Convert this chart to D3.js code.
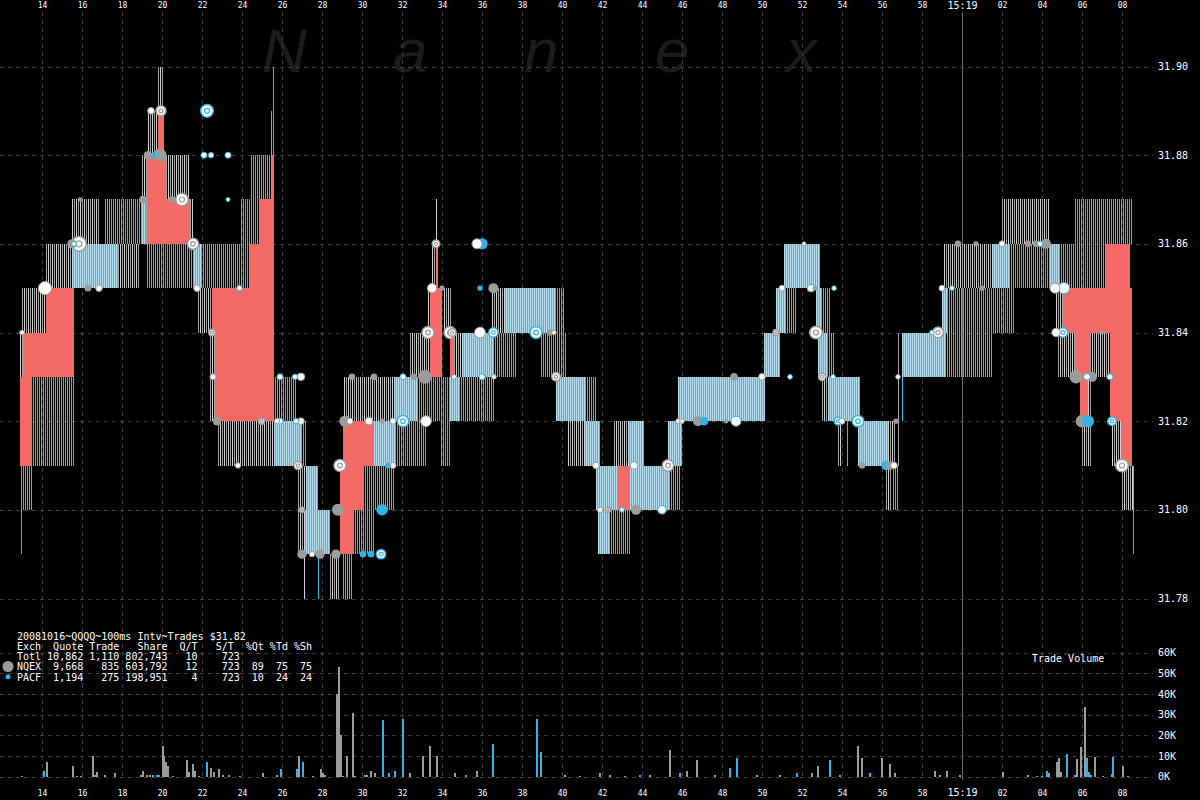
<!DOCTYPE html>
<html><head><meta charset="utf-8">
<script src="https://cdn.jsdelivr.net/npm/d3@7"></script>
<style>
html,body{margin:0;padding:0;background:#000;}
svg{display:block;}
text{font-family:"DejaVu Sans Mono",monospace;fill:#fff;}
</style></head><body>
<svg id="chart" width="1200" height="800" shape-rendering="crispEdges"></svg>
<script>
// ---------- DATA ----------
// time in seconds after 15:18:00
const timeTicks = [14,16,18,20,22,24,26,28,30,32,34,36,38,40,42,44,46,48,50,52,54,56,58,60,62,64,66,68];
const timeTickLabels = ["14","16","18","20","22","24","26","28","30","32","34","36","38","40","42","44","46","48","50","52","54","56","58","15:19","02","04","06","08"];
const priceTicks = [31.78,31.80,31.82,31.84,31.86,31.88,31.90];
const priceTickLabels = ["31.78","31.80","31.82","31.84","31.86","31.88","31.90"];
const volTicks = [0,10000,20000,30000,40000,50000,60000];
const volTickLabels = ["0K","10K","20K","30K","40K","50K","60K"];

// quote ranges [tStart, tEnd, low, high]
const nqexQuotes = [
 [12.9,13.05,31.83,31.84],[13.0,14.2,31.84,31.85],[14.2,18.9,31.85,31.86],[15.5,16.85,31.86,31.87],
 [19.0,19.25,31.86,31.88],[19.3,19.8,31.88,31.89],[19.8,20.05,31.89,31.90],[20.2,21.35,31.87,31.88],
 [21.35,21.6,31.86,31.87],[21.55,21.95,31.85,31.86],[21.8,22.5,31.84,31.85],[22.4,22.65,31.82,31.84],
 [22.8,27.0,31.81,31.82],[26.8,27.8,31.80,31.81],[26.8,28.4,31.79,31.80],[27.1,27.15,31.78,31.79],
 [28.4,28.9,31.78,31.79],[29.07,32.75,31.82,31.83],[30.6,31.65,31.81,31.82],[32.4,33.4,31.83,31.84],
 [33.3,33.6,31.84,31.85],[33.5,33.7,31.85,31.86],[33.7,33.75,31.86,31.87],[34.1,34.45,31.84,31.85],
 [34.4,34.9,31.82,31.83],[34.45,36.6,31.83,31.84],[36.5,39.7,31.84,31.85],[39.7,41.2,31.82,31.83],
 [40.3,41.9,31.81,31.82],[41.7,42.8,31.80,31.81],[43.4,45.4,31.80,31.81],[41.8,42.4,31.79,31.80],
 [42.6,44.1,31.81,31.82],[45.3,46.0,31.81,31.82],[45.8,50.15,31.82,31.83],[50.1,50.9,31.83,31.84],
 [50.7,51.2,31.84,31.85],[51.1,52.9,31.85,31.86],[52.7,53.0,31.84,31.85],[52.8,53.3,31.83,31.84],
 [53.0,54.9,31.82,31.83],[53.8,54.0,31.81,31.82],[54.8,56.7,31.81,31.82],[56.2,56.5,31.80,31.81],
 [56.8,56.85,31.81,31.84],[57.0,59.15,31.83,31.84],[59.0,59.3,31.84,31.85],[59.1,62.4,31.85,31.86],
 [62.0,64.4,31.86,31.87],[64.4,64.9,31.85,31.86],[64.7,65.1,31.84,31.85],[64.8,65.65,31.83,31.84],
 [66.0,66.5,31.81,31.83],[66.4,67.4,31.83,31.84],[67.4,67.5,31.82,31.83],[67.5,68.0,31.81,31.82],
 [68.0,68.55,31.80,31.81]
];
const pacfQuotes = [
 [12.93,12.98,31.79,31.81],[12.93,13.5,31.80,31.81],[13.5,15.6,31.81,31.83],[15.5,17.8,31.85,31.86],
 [17.1,19.2,31.86,31.87],[19.2,24.4,31.85,31.86],[23.9,24.9,31.86,31.87],[24.45,25.5,31.87,31.88],
 [25.45,25.5,31.88,31.89],[25.55,25.6,31.88,31.90],[25.65,26.7,31.82,31.83],[25.6,27.2,31.81,31.82],
 [27.2,27.8,31.80,31.81],[27.15,28.4,31.79,31.80],[27.8,27.85,31.78,31.79],[29.0,29.55,31.78,31.79],
 [29.6,30.6,31.79,31.80],[30.1,31.6,31.80,31.81],[30.6,33.2,31.81,31.82],[31.6,36.6,31.82,31.83],
 [33.9,34.4,31.81,31.82],[34.98,37.7,31.83,31.84],[37.15,40.1,31.84,31.85],[38.9,40.2,31.83,31.84],
 [39.7,41.7,31.82,31.83],[41.15,41.9,31.81,31.82],[41.7,42.8,31.80,31.81],[43.4,45.9,31.80,31.81],
 [41.8,43.4,31.79,31.80],[43.3,44.1,31.81,31.82],[45.3,46.0,31.81,31.82],[45.8,50.15,31.82,31.83],
 [50.1,50.9,31.83,31.84],[50.7,51.7,31.84,31.85],[51.1,52.9,31.85,31.86],[52.7,53.4,31.84,31.85],
 [52.8,53.6,31.83,31.84],[53.3,54.9,31.82,31.83],[54.25,54.3,31.81,31.82],[54.8,56.3,31.81,31.82],
 [56.5,56.8,31.80,31.81],[57.0,57.05,31.82,31.84],[57.0,61.5,31.83,31.84],[59.0,62.65,31.84,31.85],
 [61.5,67.2,31.85,31.86],[65.65,68.5,31.86,31.87],[68.57,68.62,31.79,31.81]
];
const crossedZones = [
 [12.9,13.5,31.81,31.83],[13.05,15.6,31.83,31.84],[14.2,15.6,31.84,31.85],[19.25,20.2,31.86,31.88],
 [19.8,20.1,31.88,31.89],[20.2,21.4,31.86,31.87],[22.5,25.6,31.84,31.85],[22.65,25.6,31.82,31.84],
 [24.4,25.6,31.85,31.86],[24.9,25.6,31.86,31.87],[25.5,25.6,31.87,31.88],[28.9,29.6,31.79,31.80],
 [28.9,30.1,31.80,31.81],[29.07,30.6,31.81,31.82],[33.4,34.0,31.83,31.85],[33.7,33.8,31.85,31.86],
 [34.4,34.6,31.83,31.84],[42.8,43.4,31.80,31.81],[65.07,68.5,31.84,31.85],[67.2,68.4,31.85,31.86],
 [65.65,66.4,31.83,31.84],[65.9,66.3,31.82,31.83],[67.4,68.5,31.82,31.84],[67.95,68.5,31.81,31.82]
];
// trades [t, price, shares, exchange, mark type: 0 solid, 1 white, 2 target]
const trades = [
 [13.0,31.84,150,"N",1],[14.15,31.85,1200,"N",1],[15.5,31.86,600,"N",0],[15.6,31.86,150,"P",1],
 [15.85,31.86,1500,"N",2],[15.9,31.87,150,"N",0],[16.3,31.85,300,"N",0],[16.85,31.85,300,"N",1],
 [19.05,31.87,400,"N",0],[19.3,31.88,500,"N",0],[19.6,31.88,200,"P",0],[19.9,31.88,1200,"N",0],
 [19.45,31.89,300,"N",1],[19.95,31.89,700,"N",2],[20.5,31.87,300,"N",0],[21.0,31.87,1100,"N",2],
 [21.55,31.86,900,"N",2],[21.75,31.85,300,"N",1],[22.25,31.89,1100,"P",2],[22.1,31.88,250,"P",1],
 [22.45,31.88,200,"P",1],[23.3,31.88,250,"P",1],[23.3,31.87,100,"P",1],[22.5,31.84,300,"N",2],
 [22.55,31.83,250,"N",1],[22.75,31.82,500,"N",0],[23.87,31.85,200,"P",1],[23.8,31.81,200,"N",1],
 [24.98,31.82,250,"N",2],[25.9,31.83,250,"P",1],[26.65,31.83,200,"P",1],[26.95,31.83,400,"N",1],
 [25.75,31.82,200,"N",1],[25.9,31.82,250,"P",1],[26.7,31.82,200,"P",1],[26.95,31.82,300,"N",1],
 [26.8,31.81,450,"N",2],[27.0,31.80,200,"N",2],[27.0,31.79,600,"N",0],[27.5,31.79,200,"N",1],
 [27.9,31.79,600,"N",0],[28.7,31.79,600,"N",0],[28.8,31.80,1000,"N",0],[28.9,31.81,1000,"N",2],
 [29.15,31.82,900,"N",0],[29.4,31.82,250,"N",1],[30.35,31.82,400,"N",1],[31.0,31.82,200,"N",0],
 [31.55,31.82,250,"N",1],[29.5,31.83,300,"N",0],[30.6,31.83,300,"N",0],[30.05,31.79,300,"P",0],
 [30.45,31.79,300,"P",0],[30.95,31.79,600,"P",2],[31.0,31.80,900,"P",0],[31.3,31.81,200,"P",0],
 [31.55,31.81,250,"N",1],[32.05,31.82,900,"P",2],[33.2,31.82,800,"N",1],[32.05,31.83,250,"P",1],
 [32.6,31.83,300,"N",0],[33.15,31.83,1300,"N",0],[33.3,31.84,1000,"N",2],[34.4,31.84,1000,"N",2],
 [33.5,31.85,600,"N",1],[34.0,31.85,200,"N",0],[33.7,31.86,400,"N",2],[34.6,31.83,150,"N",1],
 [35.75,31.86,700,"N",1],[36.0,31.86,900,"P",0],[35.9,31.85,200,"P",0],[36.57,31.85,700,"N",0],
 [34.5,31.84,400,"N",2],[35.9,31.84,800,"N",1],[36.57,31.84,600,"P",2],[38.7,31.84,1000,"P",2],
 [39.4,31.84,300,"N",0],[39.6,31.84,150,"N",1],[36.0,31.83,250,"P",1],[36.6,31.83,150,"N",1],
 [39.7,31.83,500,"N",2],[41.7,31.81,300,"N",1],[43.6,31.81,400,"N",1],[45.3,31.81,900,"N",2],
 [41.9,31.80,200,"N",1],[42.3,31.80,200,"N",2],[43.0,31.80,150,"P",1],[43.7,31.80,700,"N",0],
 [45.0,31.80,500,"P",1],[45.8,31.82,150,"N",1],[46.0,31.82,150,"N",1],[46.8,31.82,700,"N",0],
 [47.1,31.82,500,"P",0],[48.2,31.82,150,"N",0],[48.7,31.82,700,"P",1],[48.6,31.83,400,"N",0],
 [50.0,31.83,300,"N",1],[51.4,31.83,150,"P",1],[53.0,31.83,350,"N",2],[53.55,31.83,150,"P",1],
 [50.7,31.84,250,"N",2],[52.7,31.84,1100,"N",2],[51.0,31.85,250,"N",1],[52.45,31.85,400,"P",1],
 [52.65,31.85,150,"N",0],[53.6,31.85,150,"P",1],[52.1,31.86,100,"N",1],[53.8,31.82,400,"P",2],
 [54.0,31.82,250,"N",1],[54.8,31.82,900,"P",2],[56.7,31.82,200,"N",0],[55.0,31.81,300,"N",0],
 [56.2,31.81,600,"P",0],[56.4,31.81,500,"N",0],[56.6,31.81,300,"N",1],[56.8,31.83,150,"N",1],
 [58.5,31.84,150,"P",1],[58.8,31.84,800,"N",2],[59.0,31.85,250,"N",1],[59.5,31.85,150,"P",1],
 [61.0,31.85,200,"N",0],[59.8,31.86,300,"N",0],[60.7,31.86,200,"N",0],[62.0,31.86,250,"N",1],
 [63.3,31.86,300,"N",0],[63.7,31.86,300,"N",0],[63.9,31.86,200,"P",1],[64.2,31.86,700,"N",0],
 [64.65,31.85,700,"N",1],[65.1,31.85,900,"P",1],[64.7,31.84,500,"N",1],[65.05,31.84,600,"P",2],
 [67.0,31.84,100,"N",0],[65.7,31.83,1200,"N",0],[66.25,31.83,300,"P",1],[66.5,31.83,700,"N",0],
 [67.4,31.83,250,"P",1],[66.0,31.82,1100,"N",0],[66.3,31.82,1000,"P",0],[67.5,31.82,500,"P",2],
 [68.0,31.81,1100,"N",2]
];
// volume per 100ms interval [t, shares, exchange]
const volumes = [
 [13.02,300,"N"],[14.12,3000,"P"],[14.23,7000,"N"],[15.53,5000,"N"],[15.73,300,"P"],[15.93,300,"N"],
 [16.53,10000,"N"],[16.65,800,"P"],[16.75,2500,"N"],[17.13,1000,"N"],[17.63,1600,"N"],
 [18.93,1000,"N"],[19.03,3000,"N"],[19.23,800,"N"],[19.4,1000,"N"],[19.57,800,"N"],[19.73,1000,"P"],[19.83,1000,"P"],
 [20.03,15000,"N"],[20.12,10000,"N"],[20.2,7000,"N"],[20.28,5000,"N"],[20.53,500,"N"],
 [21.23,8000,"N"],[21.33,2500,"N"],[21.53,6000,"N"],[21.63,3000,"N"],[21.85,500,"N"],
 [22.23,7000,"P"],[22.43,4000,"N"],[22.62,2500,"N"],[22.83,3700,"N"],[23.03,1000,"N"],
 [23.33,1000,"P"],[23.9,300,"P"],[25.05,2000,"N"],[25.75,1000,"N"],[25.93,3700,"P"],
 [26.73,3700,"P"],[26.83,10000,"N"],[27.03,7000,"P"],[27.53,500,"N"],[27.93,3700,"N"],[28.03,2000,"N"],[28.15,800,"N"],
 [28.73,40000,"N"],[28.83,53000,"N"],[28.93,20000,"N"],[29.03,300,"N"],[29.23,10000,"N"],[29.53,31000,"N"],[29.67,300,"N"],
 [30.15,1000,"P"],[30.23,1000,"N"],[30.43,2800,"N"],[30.65,1600,"N"],
 [31.03,27500,"P"],[31.33,2000,"P"],[31.63,3000,"P"],[32.05,28000,"P"],[32.4,2000,"N"],
 [33.05,10000,"N"],[33.4,15000,"N"],[33.75,10000,"N"],[34.65,2000,"N"],[35.2,1000,"P"],[35.75,3000,"N"],[36.55,16000,"P"],
 [38.75,28000,"P"],[38.95,12000,"P"],[40.15,1000,"N"],[40.9,500,"N"],[41.9,2000,"N"],[42.4,1000,"N"],
 [43.15,500,"P"],[43.9,1000,"P"],[44.4,1000,"N"],[45.4,13000,"N"],[45.9,2000,"P"],[46.25,3000,"N"],
 [46.75,8000,"N"],[47.65,1000,"N"],[48.4,4000,"P"],[48.75,9000,"P"],[49.75,1000,"N"],[50.9,1000,"N"],[51.75,2000,"P"],
 [52.5,2000,"N"],[52.8,5000,"N"],[53.4,8000,"P"],[53.9,1000,"N"],[54.8,15000,"N"],[55.0,9000,"N"],[55.4,2000,"P"],
 [56.0,9000,"N"],[56.4,6000,"N"],[56.65,2000,"N"],[58.65,3000,"N"],[58.9,1000,"N"],[59.25,3000,"N"],[59.9,1000,"N"],
 [62.03,2500,"N"],[63.3,1000,"N"],[63.75,300,"P"],[64.0,300,"P"],[64.23,3000,"P"],[64.33,2000,"N"],
 [64.73,7000,"N"],[64.83,9000,"N"],[64.93,2500,"N"],[65.23,11000,"P"],[65.65,1000,"P"],[65.77,8500,"N"],
 [65.93,14500,"N"],[66.13,33500,"N"],[66.23,9000,"P"],[66.33,2500,"P"],[66.43,1000,"P"],[66.65,9700,"N"],
 [67.07,300,"N"],[67.48,1500,"N"],[67.53,9700,"P"],[68.03,5000,"N"],[68.32,300,"N"]
];
const legendLines = [
 "20081016~QQQQ~100ms Intv~Trades $31.82",
 "Exch  Quote Trade   Share  Q/T   S/T  %Qt %Td %Sh",
 "Totl 10,862 1,110 802,743   10    723",
 "NQEX  9,668   835 603,792   12    723  89  75  75",
 "PACF  1,194   275 198,951    4    723  10  24  24"
];
const watermarkLetters = ["N","a","n","e","x"];

// ---------- COLORS ----------
const C = {gray:"#9c9c9c", blue:"#33b4e6", red:"#f36a66", grid:"#3c3c3c",
           gStripeA:"#d2d2d2", gStripeB:"#a4a4a4", bStripe:"#3cbcec", mixStripe:"#b2dcec"};

// ---------- SCALES ----------
const x = d3.scaleLinear().domain([14,68]).range([42,1122]);
const y = d3.scaleLinear().domain([31.78,31.90]).range([598.5,66.5]);
const yv = d3.scaleLinear().domain([0,60000]).range([776.7,652.7]);
const r = d3.scaleSqrt().domain([0,2000]).range([0,8.5]);

const svg = d3.select("#chart");
svg.append("rect").attr("width",1200).attr("height",800).attr("fill","#000");

// watermark
svg.append("g").attr("shape-rendering","auto").selectAll("text").data(watermarkLetters).join("text")
  .attr("x",(d,i)=>262+i*131).attr("y",72)
  .style("font-family","'Liberation Sans',Arial,sans-serif").style("font-style","italic")
  .style("font-size","62px").style("fill","#1c1c1c").text(d=>d);

// grid
const grid = svg.append("g");
grid.selectAll("line.v").data(timeTicks).join("line")
  .attr("x1",d=>x(d)+0.5).attr("x2",d=>x(d)+0.5).attr("y1",12).attr("y2",780)
  .attr("stroke",d=>d===60?"#6a6a6a":C.grid).attr("stroke-dasharray",d=>d===60?null:"4,4");
grid.selectAll("line.h").data(priceTicks).join("line")
  .attr("x1",0).attr("x2",1153).attr("y1",d=>Math.round(y(d))+0.5).attr("y2",d=>Math.round(y(d))+0.5)
  .attr("stroke",C.grid).attr("stroke-dasharray","4,4");
grid.selectAll("line.hv").data(volTicks).join("line")
  .attr("x1",0).attr("x2",1153).attr("y1",d=>Math.round(yv(d))+0.5).attr("y2",d=>Math.round(yv(d))+0.5)
  .attr("stroke",C.grid).attr("stroke-dasharray","4,4");

// quotes drawn as 1px vertical stripes
function stripes(data, parity, colorFor){
  const cols = [];
  data.forEach(d=>{
    const x0 = Math.round(x(d[0])), x1 = Math.max(x0+1, Math.round(x(d[1])));
    const top = Math.round(y(d[3])), bot = Math.round(y(d[2]));
    const w = x1 - x0;
    for(let px=x0; px<x1; px++){
      if(w<=2 || ((px%2+2)%2)===parity) cols.push({px, top, bot});
    }
  });
  svg.append("g").selectAll("rect").data(cols).join("rect")
    .attr("x",d=>d.px).attr("width",1).attr("y",d=>d.top).attr("height",d=>d.bot-d.top)
    .attr("fill",d=>colorFor(d.px));
}
stripes(nqexQuotes, 0, px=>(px%4===0)?C.gStripeA:C.gStripeB);
stripes(pacfQuotes, 1, px=>C.bStripe);
// where both exchanges quote the same range, the columns blend into light blue
const overlaps = [];
nqexQuotes.forEach(a=>pacfQuotes.forEach(b=>{
  const t0=Math.max(a[0],b[0]), t1=Math.min(a[1],b[1]), lo=Math.max(a[2],b[2]), hi=Math.min(a[3],b[3]);
  if(t1-t0>0.15 && hi-lo>0.001) overlaps.push([t0,t1,lo,hi]);
}));
stripes(overlaps, 0, px=>C.mixStripe);

// crossed / red zones
svg.append("g").selectAll("rect").data(crossedZones).join("rect")
   .attr("x",d=>Math.round(x(d[0])))
   .attr("width",d=>Math.max(1,Math.round(x(d[1]))-Math.round(x(d[0]))))
   .attr("y",d=>Math.round(y(d[3])))
   .attr("height",d=>Math.round(y(d[2]))-Math.round(y(d[3])))
   .attr("fill",C.red);

// trades
const tg = svg.append("g").attr("shape-rendering","auto");
const sorted = trades.slice().sort((a,b)=>b[2]-a[2]);
sorted.forEach(d=>{
  const col = d[3]==="N"?C.gray:C.blue;
  const cx = x(d[0]), cy = y(d[1]), rad = Math.max(2,r(d[2]));
  if(d[4]===0){
    tg.append("circle").attr("cx",cx).attr("cy",cy).attr("r",rad).attr("fill",col);
  } else if(d[4]===1){
    tg.append("circle").attr("cx",cx).attr("cy",cy).attr("r",rad).attr("fill","#fff").attr("stroke",col).attr("stroke-width",1);
  } else {
    tg.append("circle").attr("cx",cx).attr("cy",cy).attr("r",rad).attr("fill","#fff").attr("stroke",col).attr("stroke-width",1.5);
    tg.append("circle").attr("cx",cx).attr("cy",cy).attr("r",rad*0.4).attr("fill","none").attr("stroke",col).attr("stroke-width",1.2);
  }
});

// volume bars
svg.append("g").selectAll("rect").data(volumes).join("rect")
  .attr("x",d=>Math.round(x(d[0]))-1).attr("width",2)
  .attr("y",d=>Math.round(yv(d[1]))).attr("height",d=>Math.round(yv(0))-Math.round(yv(d[1])))
  .attr("fill",d=>d[2]==="N"?C.gray:C.blue);

// legend
const lg = svg.append("g").attr("shape-rendering","auto");
lg.selectAll("text").data(legendLines).join("text")
  .attr("x",17).attr("y",(d,i)=>639.8+i*10.2)
  .style("font-size","10px").style("white-space","pre").attr("xml:space","preserve").text(d=>d);
lg.append("circle").attr("cx",8).attr("cy",666.5).attr("r",5.5).attr("fill",C.gray);
lg.append("circle").attr("cx",8).attr("cy",676.7).attr("r",2.5).attr("fill",C.blue);
svg.append("text").attr("x",1032).attr("y",661.5).style("font-size","10px").text("Trade Volume");

// axes labels
const ax = svg.append("g");
ax.selectAll("text.t").data(timeTicks).join("text").attr("class","t")
  .attr("x",d=>x(d)+0.5).attr("y",(d)=>d===60?9:8).attr("text-anchor","middle")
  .style("font-size",d=>d===60?"10px":"8px").text((d,i)=>timeTickLabels[i]);
ax.selectAll("text.b").data(timeTicks).join("text").attr("class","b")
  .attr("x",d=>x(d)+0.5).attr("y",d=>d===60?796:795.5).attr("text-anchor","middle")
  .style("font-size",d=>d===60?"10px":"8px").text((d,i)=>timeTickLabels[i]);
ax.selectAll("text.p").data(priceTicks).join("text").attr("class","p")
  .attr("x",1158).attr("y",d=>y(d)+3.6).style("font-size","10px").text((d,i)=>priceTickLabels[i]);
ax.selectAll("text.v").data(volTicks).join("text").attr("class","v")
  .attr("x",1158).attr("y",d=>yv(d)+3.6).style("font-size","10px").text((d,i)=>volTickLabels[i]);
</script>
</body></html>
